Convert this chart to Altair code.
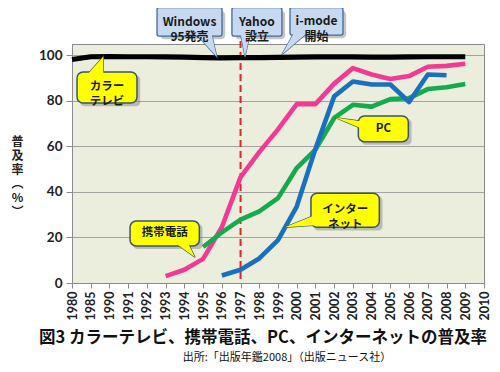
import altair as alt
import pandas as pd

# ---------------- data ----------------
years = ["1980", "1985", "1990", "1991", "1992", "1993", "1994", "1995", "1996",
         "1997", "1998", "1999", "2000", "2001", "2002", "2003", "2004", "2005",
         "2006", "2007", "2008", "2009", "2010"]

series_names = ["カラーテレビ", "携帯電話", "PC", "インターネット"]
series_colors = ["#000000", "#F23A95", "#16A94E", "#1A6FBF"]

tv_start = "1980"
tv = [98.2, 99.4, 99.5, 99.4, 99.4, 99.3, 99.2, 99.0, 98.9, 99.0, 99.0, 99.1,
      99.2, 99.3, 99.4, 99.3, 99.2, 99.2, 99.3, 99.4, 99.4, 99.4]

mobile_start = "1993"
mobile = [3.0, 5.8, 10.6, 24.5, 46.5, 57.5, 67.5, 78.6, 78.6, 87.6, 94.4,
          91.6, 89.6, 90.9, 95.0, 95.4, 96.3]

pc_start = "1995"
pc = [15.8, 22.2, 27.8, 31.5, 37.3, 50.5, 58.6, 72.5, 78.3, 77.5, 80.8,
      81.2, 85.2, 86.0, 87.4]

net_start = "1996"
net = [3.3, 5.8, 10.8, 18.8, 33.6, 59.0, 82.0, 88.5, 87.2, 87.2, 79.5, 91.6, 91.3]

starts = [tv_start, mobile_start, pc_start, net_start]
values = [tv, mobile, pc, net]

rows = []
for name, st, vals in zip(series_names, starts, values):
    i0 = years.index(st)
    for k, v in enumerate(vals):
        rows.append({"s": name, "i": i0 + k, "year": years[i0 + k], "v": v})
df = pd.DataFrame(rows)

marker_year = "1997"

# annotation boxes: label, kind, x1, x2, y1, y2 (in category-index / percent units)
box_labels = ["Windows\n95発売", "Yahoo\n設立", "i-mode\n開始",
              "カラー\nテレビ", "携帯電話", "インター\nネット", "PC"]
box_kind = ["blue", "blue", "blue", "yellow", "yellow", "yellow", "yellow"]
box_x1 = [4.54, 8.54, 11.64, 0.27, 3.10, 12.76, 15.29]
box_x2 = [8.01, 11.21, 14.47, 3.47, 6.80, 16.41, 17.96]
box_y1 = [108.5, 108.5, 108.9, 79.1, 16.3, 24.5, 62.1]
box_y2 = [121.0, 121.0, 121.0, 92.7, 27.2, 39.4, 73.4]

# pointer wedges with horizontal base: (tip x, tip y, base y, base x1, base x2)
hw_tip_x = [7.73, 9.24, 11.20, 1.67, 6.57]
hw_tip_y = [99.4, 99.4, 100.3, 99.4, 11.3]
hw_base_y = [109.6, 109.6, 109.8, 91.6, 17.4]
hw_base_x1 = [6.60, 9.00, 11.85, 0.82, 5.55]
hw_base_x2 = [7.45, 9.50, 12.55, 1.67, 6.20]
hw_kind = ["blue", "blue", "blue", "yellow", "yellow"]

# pointer wedges with vertical base: (tip x, tip y, base x, base y1, base y2)
vw_tip_x = [11.37, 14.04]
vw_tip_y = [24.5, 72.7]
vw_base_x = [13.0, 15.5]
vw_base_y1 = [25.4, 67.8]
vw_base_y2 = [29.9, 71.0]

fill_map = {"blue": "#C6D9F1", "yellow": "#FFFF00"}
stroke_map = {"blue": "#40699A", "yellow": "#3B5568"}

# ---------------- tables ----------------
boxes = pd.DataFrame({
    "label": box_labels, "kind": box_kind,
    "x1": box_x1, "x2": box_x2, "y1": box_y1, "y2": box_y2,
})
boxes["cx"] = (boxes.x1 + boxes.x2) / 2
boxes["cy"] = (boxes.y1 + boxes.y2) / 2
boxes["sx1"] = boxes.x1 + 0.17
boxes["sx2"] = boxes.x2 + 0.17
boxes["sy1"] = boxes.y1 - 1.4
boxes["sy2"] = boxes.y2 - 1.4

hrows = []
for k in range(len(hw_tip_x)):
    hrows.append({"w": k, "kind": hw_kind[k], "y": hw_tip_y[k], "xa": hw_tip_x[k], "xb": hw_tip_x[k]})
    hrows.append({"w": k, "kind": hw_kind[k], "y": hw_base_y[k], "xa": hw_base_x1[k], "xb": hw_base_x2[k]})
hw = pd.DataFrame(hrows)

vrows = []
for k in range(len(vw_tip_x)):
    vrows.append({"w": k, "kind": "yellow", "x": vw_tip_x[k], "ya": vw_tip_y[k], "yb": vw_tip_y[k]})
    vrows.append({"w": k, "kind": "yellow", "x": vw_base_x[k], "ya": vw_base_y1[k], "yb": vw_base_y2[k]})
vw = pd.DataFrame(vrows)

# ---------------- scales / axes ----------------
label_expr = "[" + ",".join("'%s'" % y for y in years) + "][datum.value]"
xscale = alt.Scale(domain=[0, len(years) - 1], nice=False, zero=False)
yscale = alt.Scale(domain=[0, 105], nice=False)

NUMFONT = "Lato"
JPFONT = "Noto Sans CJK JP"

xaxis = alt.Axis(values=list(range(len(years))), labelExpr=label_expr,
                 labelAngle=270, labelAlign="right", labelBaseline="middle",
                 labelFont=NUMFONT, labelFontSize=12.5, labelFontWeight="bold",
                 labelColor="#222222", labelPadding=3, tickSize=5,
                 tickColor="#8c8c8c", domainColor="#8c8c8c", grid=False,
                 title=None, labelOverlap=False, labelFlush=False)
yaxis = alt.Axis(values=[0, 20, 40, 60, 80, 100], grid=True, gridColor="#a3a3a3",
                 tickSize=6, tickColor="#8c8c8c", domainColor="#8c8c8c",
                 labelFont=NUMFONT, labelFontSize=13.5, labelFontWeight="bold",
                 labelColor="#222222", labelPadding=4,
                 title=["普", "及", "率", "︵", "%", "︶"], titleAngle=0,
                 titleX=-55, titleY=92, titleAlign="center", titleBaseline="top",
                 titleFont=JPFONT, titleFontSize=12, titleFontWeight="bold",
                 titleLineHeight=14, titleColor="#222222")


def X(f):
    return alt.X(f, type="quantitative", scale=xscale, axis=xaxis)


def Y(f):
    return alt.Y(f, type="quantitative", scale=yscale, axis=yaxis)


# ---------------- layers ----------------
layers = []

# 1997 dashed marker
layers.append(
    alt.Chart(pd.DataFrame({"i": [years.index(marker_year)]}))
    .mark_rule(color="#E02626", strokeDash=[7, 4], strokeWidth=2)
    .encode(x=X("i"), y=alt.value(-3), y2=alt.value(239))
)

for name, col in zip(series_names, series_colors):
    layers.append(
        alt.Chart(df[df.s == name]).mark_line(strokeWidth=4.6 if name != "カラーテレビ" else 5.2,
                                               color=col, strokeJoin="round", strokeCap="butt")
        .encode(x=X("i"), y=Y("v"), order="i:Q")
    )

kind_fill = alt.Color("kind:N", scale=alt.Scale(domain=list(fill_map), range=list(fill_map.values())), legend=None)
kind_stroke = alt.Stroke("kind:N", scale=alt.Scale(domain=list(stroke_map), range=list(stroke_map.values())), legend=None)

# shadows
layers.append(
    alt.Chart(boxes).mark_rect(color="#7f7f7f", opacity=0.45, cornerRadius=4)
    .encode(x=X("sx1"), x2="sx2", y=Y("sy1"), y2="sy2")
)
# wedges with outline
layers.append(
    alt.Chart(hw).mark_area(orient="horizontal", strokeWidth=1.3)
    .encode(y=Y("y"), x=X("xa"), x2="xb",
            fill=kind_fill, stroke=kind_stroke, detail="w:N")
)
layers.append(
    alt.Chart(vw).mark_area(orient="vertical", strokeWidth=1.3)
    .encode(x=X("x"), y=Y("ya"), y2="yb",
            fill=kind_fill, stroke=kind_stroke, detail="w:N")
)
# boxes
blue_boxes = boxes[boxes.kind == "blue"]
yellow_boxes = boxes[boxes.kind == "yellow"]
layers.append(
    alt.Chart(blue_boxes).mark_rect(fill=fill_map["blue"], stroke=stroke_map["blue"],
                                     strokeWidth=1.3, cornerRadius=2)
    .encode(x=X("x1"), x2="x2", y=Y("y1"), y2="y2")
)
layers.append(
    alt.Chart(yellow_boxes).mark_rect(fill=fill_map["yellow"], stroke=stroke_map["yellow"],
                                       strokeWidth=1.5, cornerRadius=6)
    .encode(x=X("x1"), x2="x2", y=Y("y1"), y2="y2")
)
# wedge fills again (hide box border at wedge root)
layers.append(
    alt.Chart(hw).mark_area(orient="horizontal", strokeWidth=0)
    .encode(y=Y("y"), x=X("xa"), x2="xb", fill=kind_fill, detail="w:N")
)
layers.append(
    alt.Chart(vw).mark_area(orient="vertical", strokeWidth=0)
    .encode(x=X("x"), y=Y("ya"), y2="yb", fill=kind_fill, detail="w:N")
)
# box labels
layers.append(
    alt.Chart(blue_boxes).mark_text(font=JPFONT, fontSize=12, fontWeight="bold",
                                     color="#1a1a1a", lineBreak="\n", lineHeight=15.5,
                                     baseline="middle", align="center")
    .encode(x=X("cx"), y=Y("cy"), text="label:N")
)
layers.append(
    alt.Chart(yellow_boxes).mark_text(font=JPFONT, fontSize=11.5, fontWeight="bold",
                                       color="#1a1a1a", lineBreak="\n", lineHeight=15,
                                       baseline="middle", align="center")
    .encode(x=X("cx"), y=Y("cy"), text="label:N")
)

# figure caption below the chart
title_text = "図3  カラーテレビ、携帯電話、PC、インターネットの普及率"
source_text = "出所:「出版年鑑2008」（出版ニュース社）"
one = pd.DataFrame({"t": [title_text], "s": [source_text]})
layers.append(
    alt.Chart(one).mark_text(font=JPFONT, fontSize=16.5, fontWeight="bold", color="#111111",
                             align="center", baseline="middle")
    .encode(x=alt.value(191), y=alt.value(294), text="t:N")
)
layers.append(
    alt.Chart(one).mark_text(font=JPFONT, fontSize=11, color="#111111",
                             align="center", baseline="middle")
    .encode(x=alt.value(215), y=alt.value(314), text="s:N")
)

chart = (
    alt.layer(*layers)
    .properties(width=412, height=239,
                autosize=alt.AutoSizeParams(type="none"),
                padding={"left": 64, "top": 36, "right": 8, "bottom": 81},
                background="white")
    .configure_view(fill="#EBEEDC", stroke="#8a8a8a", strokeWidth=1)
)

chart.save("out.html", embed_options={"renderer": "svg", "actions": False})
